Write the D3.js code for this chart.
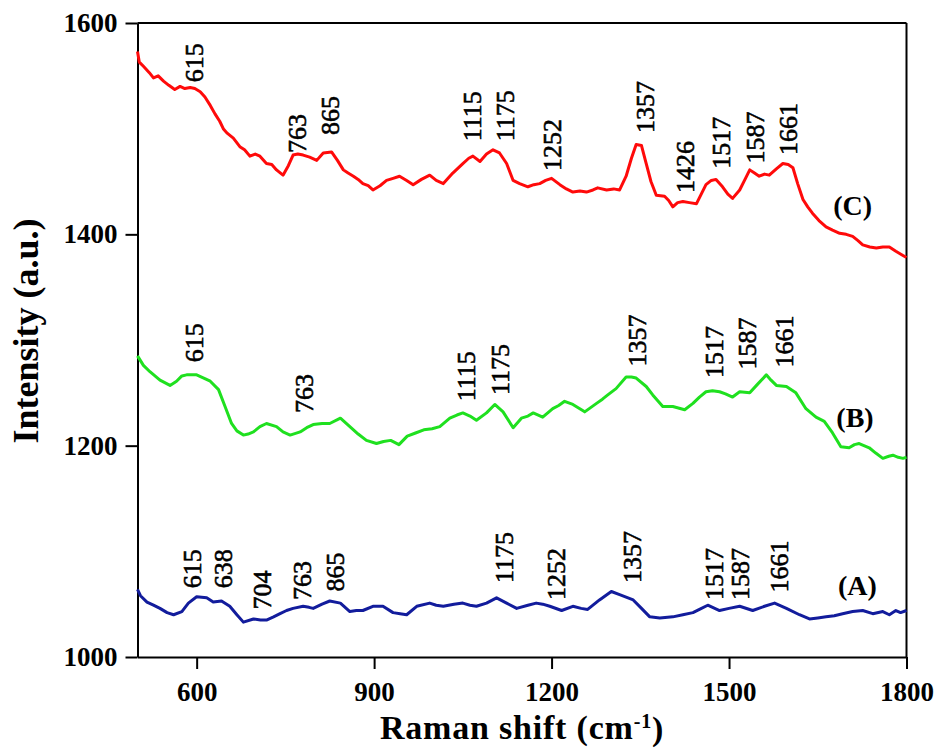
<!DOCTYPE html>
<html>
<head>
<meta charset="utf-8">
<script src="https://cdn.jsdelivr.net/npm/d3@7"></script>
<style>
  html, body { margin: 0; padding: 0; background: #ffffff; }
  svg { display: block; }
  text { font-family: "Liberation Serif", "Times New Roman", Times, serif; }
</style>
</head>
<body>
<svg id="chart" width="938" height="748"></svg>
<script>
// ---------- DATA ----------
const xTicks = [600, 900, 1200, 1500, 1800];
const yTicks = [1000, 1200, 1400, 1600];

const seriesC_x = [500,503,510,520,527,535,544,553,563,572,580,589,597,606,614,623,631,639,645,651,662,673,681,690,699,707,718,727,735,746,755,763,771,780,791,803,814,828,838,848,856,865,873,881,890,898,910,921,932,943,955,966,980,994,1005,1017,1033,1050,1060,1067,1079,1090,1101,1112,1124,1135,1146,1160,1170,1180,1190,1200,1214,1225,1236,1248,1259,1270,1278,1293,1305,1315,1326,1335,1343,1352,1360,1368,1377,1391,1398,1405,1413,1422,1433,1445,1453,1461,1470,1478,1489,1498,1506,1518,1527,1535,1543,1551,1560,1568,1580,1591,1600,1608,1616,1625,1633,1641,1652,1664,1675,1687,1698,1709,1718,1726,1738,1749,1760,1771,1782,1794,1800];
const seriesC_y = [1573,1563,1559,1553,1548,1550,1545,1541,1537,1540,1538,1539,1538,1535,1530,1522,1514,1507,1500,1496,1491,1483,1480,1474,1476,1474,1467,1466,1461,1456,1465,1475,1476,1475,1473,1470,1477,1478,1470,1461,1458,1455,1452,1448,1446,1442,1446,1451,1453,1455,1451,1447,1452,1456,1451,1448,1458,1467,1472,1474,1469,1476,1480,1477,1467,1451,1448,1445,1447,1448,1451,1453,1447,1443,1440,1441,1440,1442,1444,1442,1443,1442,1455,1472,1485,1484,1467,1450,1437,1436,1432,1426,1430,1431,1430,1429,1438,1447,1451,1452,1445,1438,1434,1442,1452,1461,1458,1455,1457,1456,1462,1467,1466,1463,1448,1433,1426,1420,1413,1407,1404,1401,1400,1398,1394,1390,1388,1387,1388,1388,1384,1380,1378];

const seriesB_x = [500,510,521,538,555,566,575,583,600,612,623,637,648,659,668,679,687,696,707,718,735,746,758,775,786,797,812,825,843,859,873,887,904,916,928,942,956,970,984,998,1011,1028,1040,1050,1062,1073,1090,1104,1118,1135,1149,1160,1169,1185,1202,1212,1222,1236,1256,1276,1286,1295,1309,1326,1335,1343,1360,1371,1388,1405,1425,1439,1450,1461,1472,1484,1494,1506,1518,1535,1548,1563,1571,1580,1597,1613,1630,1647,1661,1675,1689,1703,1712,1720,1737,1748,1760,1770,1777,1786,1794,1800];
const seriesB_y = [1285,1276,1270,1262,1257,1261,1266,1267,1267,1264,1261,1253,1237,1221,1214,1210,1211,1213,1218,1221,1218,1213,1210,1213,1217,1220,1221,1221,1226,1218,1211,1205,1202,1204,1205,1201,1209,1212,1215,1216,1218,1226,1229,1231,1228,1224,1231,1239,1232,1217,1226,1228,1231,1227,1235,1238,1242,1239,1232,1240,1244,1248,1254,1265,1265,1264,1256,1248,1237,1237,1234,1240,1246,1251,1252,1251,1249,1246,1251,1250,1258,1267,1262,1257,1256,1250,1235,1227,1223,1212,1199,1198,1201,1202,1198,1193,1188,1190,1191,1189,1188,1189];

const seriesA_x = [500,505,516,527,538,550,561,575,586,600,617,628,642,656,668,679,696,708,718,730,741,752,763,780,790,797,812,825,843,859,870,881,898,915,932,944,955,972,994,1005,1017,1035,1050,1062,1073,1090,1107,1124,1141,1160,1174,1185,1197,1217,1236,1250,1261,1281,1301,1315,1338,1352,1366,1383,1405,1422,1439,1450,1464,1484,1500,1518,1540,1560,1577,1597,1619,1636,1650,1664,1678,1692,1709,1726,1743,1760,1771,1782,1790,1800];
const seriesA_y = [1064,1058,1052,1049,1046,1042,1040,1043,1051,1057,1056,1052,1053,1048,1040,1033,1036,1035,1035,1038,1041,1044,1046,1048,1047,1046,1050,1053,1051,1043,1044,1044,1048,1048,1042,1041,1040,1048,1051,1049,1048,1050,1051,1049,1048,1051,1056,1051,1046,1049,1051,1050,1048,1044,1048,1046,1045,1054,1062,1059,1054,1046,1038,1037,1038,1040,1042,1045,1049,1044,1046,1048,1044,1048,1051,1046,1040,1036,1037,1038,1039,1041,1043,1044,1041,1043,1040,1044,1042,1044];

// peak annotations: text, anchor wavenumber, anchor intensity (bottom of rotated label)
const peaksC_text = ["615","763","865","1115","1175","1252","1357","1426","1517","1587","1661"];
const peaksC_x = [595,769,825,1066,1121,1200,1357,1426,1486,1543,1599];
const peaksC_y = [1544,1477,1494,1488,1488,1460,1496,1439,1462,1467,1475];

const peaksB_text = ["615","763","1115","1175","1357","1517","1587","1661"];
const peaksB_x = [595,781,1055,1112,1345,1474,1530,1592];
const peaksB_y = [1279,1231,1242,1248,1275,1264,1272,1274];

const peaksA_text = ["615","638","704","763","865","1175","1252","1357","1517","1587","1661"];
const peaksA_x = [592,644,710,778,834,1119,1207,1335,1474,1519,1585];
const peaksA_y = [1065,1065,1045,1054,1062,1070,1054,1070,1054,1054,1061];

const seriesNames = ["(C)", "(B)", "(A)"];
const seriesNameX = [1709, 1713, 1717];
const seriesNameY = [1418, 1218, 1059];

const xTitle = "Raman shift (cm";
const yTitle = "Intensity (a.u.)";

// ---------- LAYOUT ----------
const mLeft = 137.5, mRight = 906.5, mTop = 23, mBottom = 657;
const svg = d3.select("#chart");
const x = d3.scaleLinear().domain([500, 1800]).range([mLeft, mRight]);
const y = d3.scaleLinear().domain([1000, 1600]).range([mBottom, mTop]);

// frame (top and right)
svg.append("line").attr("x1", mLeft).attr("x2", mRight).attr("y1", mTop).attr("y2", mTop)
  .attr("stroke", "#000").attr("stroke-width", 2);
svg.append("line").attr("x1", mRight).attr("x2", mRight).attr("y1", mTop).attr("y2", mBottom)
  .attr("stroke", "#000").attr("stroke-width", 2);

// axes
const xAxis = svg.append("g").attr("transform", `translate(0,${mBottom})`)
  .call(d3.axisBottom(x).tickValues(xTicks).tickSize(12).tickSizeOuter(0).tickPadding(13).tickFormat(d3.format("d")));
const yAxis = svg.append("g").attr("transform", `translate(${mLeft},0)`)
  .call(d3.axisLeft(y).tickValues(yTicks).tickSize(12).tickSizeOuter(0).tickPadding(8).tickFormat(d3.format("d")));
[xAxis, yAxis].forEach(g => {
  g.attr("font-family", null).attr("font-size", null);
  g.select(".domain").attr("stroke", "#000").attr("stroke-width", 2);
  g.selectAll(".tick line").attr("stroke", "#000").attr("stroke-width", 2);
  g.selectAll(".tick text").attr("fill", "#000")
    .style("font-weight", "bold").style("font-size", "27px");
});

// curves
const line = d3.line().x(d => x(d[0])).y(d => y(d[1]));
const curves = [
  {xs: seriesC_x, ys: seriesC_y, color: "#ff0a0a"},
  {xs: seriesB_x, ys: seriesB_y, color: "#1fe01f"},
  {xs: seriesA_x, ys: seriesA_y, color: "#121c9c"}
];
curves.forEach(c => {
  svg.append("path")
    .datum(d3.zip(c.xs, c.ys))
    .attr("d", line)
    .attr("fill", "none")
    .attr("stroke", c.color)
    .attr("stroke-width", 3)
    .attr("stroke-linejoin", "round");
});

// peak labels
function peakLabels(texts, xs, ys) {
  texts.forEach((t, i) => {
    svg.append("text")
      .attr("transform", `translate(${x(xs[i])},${y(ys[i])}) rotate(-90)`)
      .attr("dy", "0.35em")
      .attr("text-anchor", "start")
      .style("font-size", "26px")
      .style("font-weight", "normal")
      .attr("fill", "#000")
      .attr("stroke", "#000").attr("stroke-width", 0.6)
      .text(t);
  });
}
peakLabels(peaksC_text, peaksC_x, peaksC_y);
peakLabels(peaksB_text, peaksB_x, peaksB_y);
peakLabels(peaksA_text, peaksA_x, peaksA_y);

// series names
seriesNames.forEach((n, i) => {
  svg.append("text")
    .attr("x", x(seriesNameX[i])).attr("y", y(seriesNameY[i]))
    .attr("text-anchor", "middle")
    .style("font-size", "28px").style("font-weight", "bold")
    .attr("fill", "#000")
    .text(n);
});

// axis titles
const xt = svg.append("text")
  .attr("x", (mLeft + mRight) / 2).attr("y", 739)
  .attr("text-anchor", "middle")
  .style("font-size", "34px").style("font-weight", "bold")
  .style("letter-spacing", "0.8px")
  .attr("fill", "#000");
xt.append("tspan").text(xTitle);
xt.append("tspan").attr("dy", "-0.55em").style("font-size", "20px").text("-1");
xt.append("tspan").attr("dy", "0.35em").text(")");

svg.append("text")
  .attr("transform", `translate(38,331) rotate(-90)`)
  .attr("text-anchor", "middle")
  .style("font-size", "36px").style("font-weight", "bold")
  .attr("fill", "#000")
  .text(yTitle);
</script>
</body>
</html>
